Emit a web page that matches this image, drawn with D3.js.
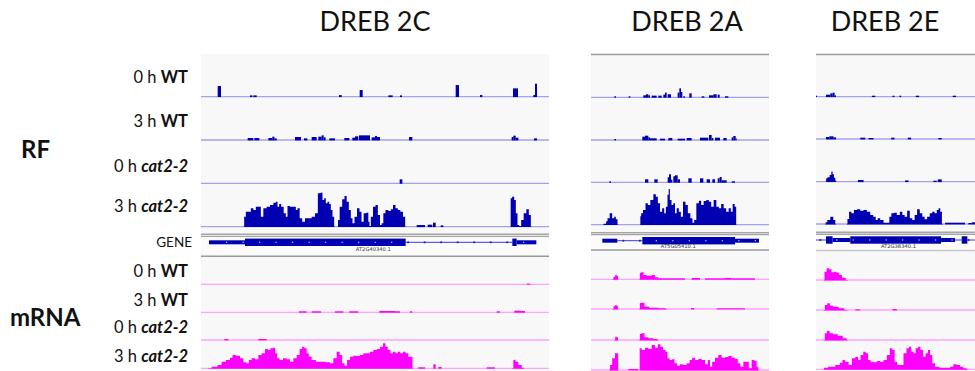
<!DOCTYPE html>
<html><head><meta charset="utf-8">
<script src="https://cdn.jsdelivr.net/npm/d3@7"></script>
<style>body{margin:0;background:#fff}svg{display:block}</style>
</head><body><svg id="c" width="975" height="371"></svg>
<script>
// ---- labels ----
const titles = ["DREB 2C", "DREB 2A", "DREB 2E"];
const geneIds = ["AT2G40340.1", "AT5G05410.1", "AT2G38340.1"];
const groupLabels = ["RF", "mRNA"];
const sampleLabels = [["0 h ", "WT", false], ["3 h ", "WT", false], ["0 h ", "cat2-2", true], ["3 h ", "cat2-2", true]];

// ---- coverage: window position (bins), read depth (arbitrary units) ----
// bars: [start, end, depth]; peaks: lists of [pos, depth]
// DREB 2C
const c2_rf0wt_bars = [[68,78,32],[165,172,4],[175,185,4],[432,440,5],[494,503,20],[580,593,4],[615,621,4],[782,792,35],[855,862,5],[954,969,25],[1015,1020,5],[1020,1026,39]];
const c2_rf3wt_bars = [[158,175,6],[178,193,6],[220,232,6],[232,238,10],[238,245,5],[300,318,9],[327,337,5],[350,365,9],[370,380,10],[380,386,14],[386,392,8],[403,420,5],[448,463,6],[472,480,7],[480,490,11],[492,525,14],[530,540,8],[540,546,12],[546,555,9],[642,652,9],[950,955,9],[955,962,13],[962,970,7],[1017,1026,5]];
const c2_rf0cat_bars = [[614,622,12]];
const c2_rf3cat_bars = [[665,690,5],[698,712,6],[714,722,12],[737,745,4]];
const c2_rf3cat_peaks = [
  [[145,0],[150,30],[155,45],[165,45],[170,55],[180,50],[185,60],[195,60],[200,30],[210,55],[220,60],[230,65],[240,72],[245,75],[250,60],[255,68],[262,60],[270,40],[275,30],[280,62],[290,60],[300,60],[305,50],[310,55],[318,25],[325,15],[335,25],[345,25],[355,30],[365,40],[372,100],[380,102],[385,80],[390,85],[395,70],[400,75],[405,68],[410,50],[415,30],[420,0]],
  [[428,0],[430,20],[438,60],[445,82],[452,92],[458,75],[465,50],[470,25],[475,10],[482,30],[490,55],[497,45],[502,15],[510,40],[518,42],[522,15],[525,2],[530,30],[538,60],[545,65],[552,35],[558,5],[562,10],[568,40],[575,50],[585,47],[590,52],[598,65],[605,55],[612,50],[620,45],[628,30],[633,0]],
  [[946,0],[948,85],[955,90],[960,80],[965,40],[970,5],[975,2],[982,20],[990,40],[998,52],[1005,35],[1010,0]]
];
const c2_m0wt_bars = [[995,1005,2]];
const c2_m3wt_bars = [[312,335,3],[350,378,3],[420,445,3],[463,490,3],[553,600,4],[600,615,3],[645,652,3],[905,915,3],[958,975,5],[975,990,4]];
const c2_m0cat_bars = [[88,100,3],[190,215,3]];
const c2_m3cat_bars = [[670,690,3],[715,722,12],[730,740,4],[875,900,3]];
const c2_m3cat_peaks = [
  [[40,0],[60,5],[75,10],[85,20],[100,25],[110,32],[115,40],[130,38],[140,30],[150,18],[158,15],[165,25],[175,30],[185,27],[195,40],[205,45],[215,58],[222,55],[230,60],[238,62],[243,45],[250,30],[258,25],[270,30],[280,27],[290,20],[300,30],[310,40],[318,58],[325,65],[332,60],[338,45],[345,35],[355,25],[370,20],[385,20],[400,18],[410,15],[420,30],[430,50],[438,40],[445,15],[452,8],[460,25],[470,35],[480,38],[490,37],[500,40],[510,45],[520,45],[530,50],[540,55],[550,58],[560,65],[568,75],[575,65],[582,55],[590,45],[598,50],[605,45],[612,50],[620,45],[628,50],[635,45],[645,35],[650,35],[655,0]],
  [[952,0],[958,25],[965,20],[975,10],[985,2],[988,0]]
];
// DREB 2A
const a2_rf0wt_bars = [[88,93,3],[131,136,3],[175,183,6],[183,190,9],[190,195,6],[200,215,5],[220,230,5],[235,240,8],[240,245,14],[248,258,9],[278,283,14],[283,288,27],[288,292,16],[295,300,3],[313,320,12],[350,358,3],[372,385,6],[385,395,9],[398,404,8],[420,430,3]];
const a2_rf3wt_bars = [[88,93,3],[172,180,10],[180,190,13],[190,195,8],[195,215,5],[225,240,4],[250,262,6],[278,300,4],[305,320,6],[345,370,7],[372,380,15],[380,385,6],[390,405,7],[415,425,6],[440,445,8],[445,452,12],[452,455,5]];
const a2_rf0cat_bars = [[73,78,3],[180,190,9],[208,218,9],[248,252,15],[252,258,24],[258,262,8],[265,270,18],[270,278,21],[278,285,9],[310,320,12],[345,355,12],[365,375,9],[382,390,9],[398,404,12],[404,410,16],[410,425,6],[440,450,3]];
const a2_rf3cat_peaks = [
  [[55,0],[56,3],[62,3],[65,10],[70,19],[78,34],[85,19],[90,24],[95,16],[100,0]],
  [[165,0],[167,25],[170,34],[178,44],[185,64],[192,59],[200,74],[210,91],[215,84],[222,64],[228,39],[235,49],[240,34],[245,54],[250,90],[252,107],[257,74],[262,59],[268,64],[272,34],[278,49],[285,39],[290,24],[298,69],[305,59],[312,34],[320,19],[325,6],[330,14],[338,64],[345,72],[352,59],[360,71],[368,74],[375,69],[382,54],[390,74],[398,54],[405,49],[412,62],[420,49],[427,39],[435,49],[440,39],[446,62],[452,54],[455,0]]
];
const a2_m0wt_bars = [[225,300,3],[320,345,4],[360,420,3],[420,440,4],[440,480,3],[480,510,3]];
const a2_m0wt_peaks = [[[83,0],[88,8],[93,13],[98,10],[100,0]],[[163,0],[166,20],[172,21],[180,13],[190,11],[195,11],[205,13],[215,6],[225,3],[230,0]]];
const a2_m3wt_bars = [[318,328,3],[395,480,2]];
const a2_m3wt_peaks = [[[83,0],[88,8],[93,12],[98,8],[100,0]],[[163,0],[166,18],[172,19],[185,7],[200,4],[240,2],[245,0]]];
const a2_m0cat_peaks = [[[88,0],[93,10],[98,8],[100,0]],[[163,0],[166,18],[172,20],[185,8],[195,5],[215,3],[220,0]]];
const a2_m3cat_bars = [[130,160,3]];
const a2_m3cat_peaks = [
  [[72,0],[78,15],[85,35],[95,50],[99,50],[100,0]],
  [[163,0],[165,65],[175,60],[185,67],[195,63],[205,75],[215,67],[222,77],[230,70],[238,60],[245,55],[250,35],[258,30],[265,32],[272,20],[280,13],[290,17],[300,15],[310,20],[318,30],[325,37],[335,30],[345,33],[355,30],[365,17],[372,30],[378,10],[385,25],[395,37],[405,45],[415,37],[425,39],[435,42],[445,37],[455,33],[462,20],[470,10],[480,25],[488,25],[495,5],[505,30],[512,27],[518,10],[522,0]]
];
// DREB 2E
const e2_rf0wt_bars = [[32,35,3],[62,75,6],[75,82,10],[82,88,12],[88,92,4],[200,210,3],[262,268,3],[283,288,3],[332,342,3],[443,453,3]];
const e2_rf3wt_bars = [[62,72,6],[72,85,8],[85,92,5],[165,180,4],[190,205,3],[258,268,4],[308,318,4],[400,410,3]];
const e2_rf0cat_bars = [[158,175,5],[300,310,4],[385,395,3],[398,410,7]];
const e2_rf0cat_peaks = [[[62,0],[63,10],[70,13],[76,20],[80,30],[84,22],[88,12],[92,3],[93,0]]];
const e2_rf3cat_bars = [[420,480,4],[490,500,3],[500,510,5]];
const e2_rf3cat_peaks = [
  [[60,0],[62,5],[70,12],[80,22],[88,12],[92,0]],
  [[125,0],[128,15],[135,37],[142,32],[150,42],[160,44],[170,40],[180,42],[190,37],[200,27],[208,22],[215,12],[220,17],[230,12],[240,4],[250,4],[255,22],[262,32],[270,34],[280,27],[288,37],[295,27],[302,22],[310,40],[318,17],[325,12],[332,27],[340,44],[348,32],[355,22],[362,14],[370,22],[378,32],[385,37],[392,32],[398,42],[403,47],[408,37],[413,0]]
];
const e2_m0wt_peaks = [[[55,0],[60,25],[68,35],[75,32],[82,23],[90,25],[98,22],[105,15],[115,7],[128,0]]];
const e2_m3wt_bars = [[150,165,2],[262,275,3]];
const e2_m3wt_peaks = [[[55,0],[62,15],[70,20],[78,13],[90,10],[110,5],[125,0]]];
const e2_m0cat_peaks = [[[55,0],[62,20],[68,27],[78,20],[90,17],[105,13],[120,5],[128,0]]];
const e2_m3cat_peaks = [
  [[55,0],[57,5],[80,8],[100,13],[108,20],[115,28],[125,23],[135,13],[145,33],[155,38],[162,28],[170,43],[178,53],[185,48],[192,28],[200,23],[210,21],[220,25],[230,23],[240,28],[250,43],[258,63],[265,58],[272,23],[280,13],[290,13],[300,48],[308,63],[315,68],[322,53],[328,48],[335,63],[342,68],[350,58],[358,38],[365,48],[372,58],[378,43],[385,18],[395,8],[410,5],[430,5],[440,8],[450,15],[460,13],[470,8],[480,3],[490,0]]
];

// ---- gene models: [start, end] in window bins ----
const c2_cds = [[150,632],[952,965]], c2_utr = [[42,150],[965,1024]], c2_intron = [[632,952]];
const a2_cds = [[172,450]], a2_utr = [[52,97],[450,522]], a2_intron = [[97,172]];
const e2_cds = [[62,82],[135,408],[470,487]], e2_utr = [[82,135],[408,450]], e2_intron = [[32,62],[450,470],[487,510]];
const geneLabelPos = [535, 280, 280];

// ---- layout ----
const T = (bars, peaks) => ({bars: bars || [], peaks: peaks || []});
const panels = [
  {x0: 201, x1: 549, dom: [18, 1062], top: 54, topLine: false, titleX: 375,
   rf: [96.7, 140, 183.3, 226.7], dbl: [234.3, 236.5], gene: 242.3, label: 250.8, low: 256.2,
   mrna: [284.3, 312.3, 340, 368.3], tick0: 95,
   rfTracks: [T(c2_rf0wt_bars), T(c2_rf3wt_bars), T(c2_rf0cat_bars), T(c2_rf3cat_bars, c2_rf3cat_peaks)],
   mTracks: [T(c2_m0wt_bars), T(c2_m3wt_bars), T(c2_m0cat_bars), T(c2_m3cat_bars, c2_m3cat_peaks)],
   cds: c2_cds, utr: c2_utr, intron: c2_intron},
  {x0: 591, x1: 769, dom: [18, 552], top: 54.5, topLine: true, titleX: 687,
   rf: [97.3, 140, 182.3, 224.7], dbl: [232.7, 234.8], gene: 240.7, label: 248.2, low: 250,
   mrna: [279.3, 309, 340, 370], tick0: 115,
   rfTracks: [T(a2_rf0wt_bars), T(a2_rf3wt_bars), T(a2_rf0cat_bars), T([], a2_rf3cat_peaks)],
   mTracks: [T(a2_m0wt_bars, a2_m0wt_peaks), T(a2_m3wt_bars, a2_m3wt_peaks), T([], a2_m0cat_peaks), T(a2_m3cat_bars, a2_m3cat_peaks)],
   cds: a2_cds, utr: a2_utr, intron: a2_intron},
  {x0: 816, x1: 975, dom: [32, 510], top: 54.5, topLine: true, titleX: 885,
   rf: [96.7, 139, 181.7, 224], dbl: [232.2, 234.3], gene: 240, label: 247.6, low: 250.5,
   mrna: [280, 310, 340, 369.3], tick0: 45,
   rfTracks: [T(e2_rf0wt_bars), T(e2_rf3wt_bars), T(e2_rf0cat_bars, e2_rf0cat_peaks), T(e2_rf3cat_bars, e2_rf3cat_peaks)],
   mTracks: [T([], e2_m0wt_peaks), T(e2_m3wt_bars, e2_m3wt_peaks), T([], e2_m0cat_peaks), T([], e2_m3cat_peaks)],
   cds: e2_cds, utr: e2_utr, intron: e2_intron}
];

const RF_FILL = "#0000b2", RF_LINE = "#a3a3ec";
const M_FILL = "#ff00ff", M_LINE = "#ffa3ff";
const GENE = "#0000b2";
const FONT = "Lato, 'Open Sans', sans-serif";

const svg = d3.select("#c");
// depth units -> pixels (same scale for every track)
const depth = d3.scaleLinear().domain([0, 3]).range([0, 1]);

panels.forEach((p, i) => {
  const x = d3.scaleLinear().domain(p.dom).range([p.x0, p.x1]);
  const g = svg.append("g");
  const clipId = "clip" + i;
  svg.append("clipPath").attr("id", clipId).append("rect")
    .attr("x", p.x0).attr("y", 0).attr("width", p.x1 - p.x0).attr("height", 371);
  g.attr("clip-path", `url(#${clipId})`);

  g.append("rect").attr("x", p.x0).attr("y", p.top).attr("width", p.x1 - p.x0)
    .attr("height", 371 - p.top).attr("fill", "#f8f8f8");
  if (p.topLine) g.append("line").attr("x1", p.x0).attr("x2", p.x1)
    .attr("y1", p.top).attr("y2", p.top).attr("stroke", "#9a9a9a").attr("stroke-width", 1.6);

  function drawTrack(tr, base, fill, lineCol) {
    g.append("line").attr("x1", p.x0).attr("x2", p.x1).attr("y1", base).attr("y2", base)
      .attr("stroke", lineCol).attr("stroke-width", 1.3);
    g.selectAll(null).data(tr.bars).join("rect")
      .attr("x", d => x(d[0])).attr("width", d => Math.max(0.8, x(d[1]) - x(d[0])))
      .attr("y", d => base - depth(d[2])).attr("height", d => depth(d[2]) + 0.4)
      .attr("fill", fill);
    const area = d3.area().curve(d3.curveStep).x(d => x(d[0])).y0(base + 0.4).y1(d => base - depth(d[1]));
    g.selectAll(null).data(tr.peaks).join("path").attr("d", area).attr("fill", fill);
  }
  p.rfTracks.forEach((tr, k) => drawTrack(tr, p.rf[k], RF_FILL, RF_LINE));
  p.mTracks.forEach((tr, k) => drawTrack(tr, p.mrna[k], M_FILL, M_LINE));

  // gene track separators
  p.dbl.forEach(y => g.append("line").attr("x1", p.x0).attr("x2", p.x1).attr("y1", y).attr("y2", y)
    .attr("stroke", "#a6a6a6").attr("stroke-width", 1.4));
  g.append("rect").attr("x", p.x0).attr("y", p.dbl[1] + 0.7).attr("width", p.x1 - p.x0)
    .attr("height", p.low - p.dbl[1] - 1.4).attr("fill", "#fbfbfb");
  g.append("line").attr("x1", p.x0).attr("x2", p.x1).attr("y1", p.low).attr("y2", p.low)
    .attr("stroke", i === 2 ? "#c8c8c8" : "#9a9a9a").attr("stroke-width", 1.5);

  // gene model
  const gy = p.gene;
  p.intron.forEach(d => g.append("line").attr("x1", x(d[0])).attr("x2", x(d[1]))
    .attr("y1", gy).attr("y2", gy).attr("stroke", "#3a3ad0").attr("stroke-width", 1));
  p.utr.forEach(d => g.append("rect").attr("x", x(d[0])).attr("width", x(d[1]) - x(d[0]))
    .attr("y", gy - 2).attr("height", 4).attr("fill", GENE));
  p.cds.forEach(d => g.append("rect").attr("x", x(d[0])).attr("width", x(d[1]) - x(d[0]))
    .attr("y", gy - 3.7).attr("height", 7.4).attr("fill", GENE));
  // strand marks along the gene
  const inBlock = (v, list) => list.some(d => v > d[0] + 3 && v < d[1] - 3);
  d3.range(p.tick0, p.dom[1], 49.5).forEach(v => {
    if (inBlock(v, p.cds) || inBlock(v, p.utr)) {
      g.append("rect").attr("x", x(v) - 0.6).attr("y", gy - 0.6).attr("width", 1.2).attr("height", 1.2)
        .attr("fill", "#c8c8ff");
    } else if (inBlock(v, p.intron)) {
      g.append("rect").attr("x", x(v) - 0.9).attr("y", gy - 0.9).attr("width", 1.8).attr("height", 1.8)
        .attr("fill", "#2020c8");
    }
  });
  g.append("text").attr("x", x(geneLabelPos[i])).attr("y", p.label)
    .attr("text-anchor", "middle").attr("font-family", "'DejaVu Sans', sans-serif")
    .attr("font-size", 5.2).attr("fill", "#333").text(geneIds[i]);

  svg.append("text").attr("x", p.titleX).attr("y", 22).attr("dy", "0.35em")
    .attr("text-anchor", "middle").attr("font-family", FONT).attr("font-size", 27)
    .attr("fill", "#111").text(titles[i]);
});

// row labels
const rfRows = [77.3, 121.7, 166, 206.7], mRows = [271.7, 300.7, 327.7, 356];
function rowLabel(y, lab) {
  const t = svg.append("text").attr("x", 188).attr("y", y).attr("dy", "0.35em")
    .attr("text-anchor", "end").attr("font-family", FONT).attr("font-size", 16.5).attr("fill", "#111");
  t.append("tspan").text(lab[0]);
  t.append("tspan").attr("font-weight", "bold").attr("font-style", lab[2] ? "italic" : "normal").text(lab[1]);
}
rfRows.forEach((y, k) => rowLabel(y, sampleLabels[k]));
mRows.forEach((y, k) => rowLabel(y, sampleLabels[k]));
svg.append("text").attr("x", 192).attr("y", 242.7).attr("dy", "0.35em").attr("text-anchor", "end")
  .attr("font-family", FONT).attr("font-size", 13.5).attr("fill", "#111").text("GENE");
svg.append("text").attr("x", 21).attr("y", 150).attr("dy", "0.35em").attr("font-family", FONT)
  .attr("font-weight", "bold").attr("font-size", 24).attr("fill", "#111").text(groupLabels[0]);
svg.append("text").attr("x", 10).attr("y", 318).attr("dy", "0.35em").attr("font-family", FONT)
  .attr("font-weight", "bold").attr("font-size", 24).attr("fill", "#111").text(groupLabels[1]);
</script></body></html>
